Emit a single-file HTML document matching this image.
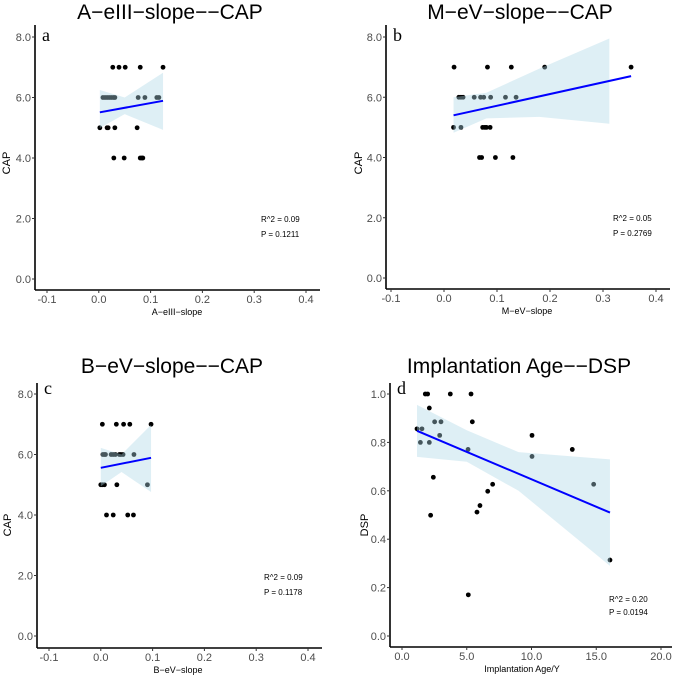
<!DOCTYPE html>
<html><head><meta charset="utf-8"><style>
html,body{margin:0;padding:0;background:#fff}
svg{display:block;font-family:"Liberation Sans",sans-serif}
</style></head><body>
<svg id="fig" width="675" height="676" viewBox="0 0 675 676"></svg>
<script>
// Panel a data
const aX7=[0.027,0.039,0.051,0.080,0.124];
const aX6=[0.008,0.012,0.016,0.020,0.024,0.028,0.031,0.076,0.089,0.112,0.116];
const aX5=[0.002,0.016,0.018,0.031,0.074];
const aX4=[0.029,0.049,0.080,0.083,0.085];
// Panel b data
const bX7=[0.019,0.082,0.127,0.190,0.353];
const bX6=[0.028,0.032,0.036,0.057,0.069,0.075,0.088,0.116,0.136];
const bX5=[0.018,0.032,0.073,0.077,0.080,0.087];
const bX4=[0.067,0.071,0.097,0.130];
// Panel c data
const cX7=[0.003,0.030,0.044,0.056,0.097];
const cX6=[0.004,0.007,0.009,0.020,0.024,0.028,0.036,0.039,0.043,0.064];
const cX5=[0.000,0.003,0.007,0.031,0.090];
const cX4=[0.011,0.024,0.052,0.063];
// Panel d data
const dAge=[1.16,1.54,1.42,1.80,1.98,2.11,2.11,2.52,3.01,2.91,2.42,2.21,3.73,5.33,5.43,5.10,5.12,5.79,6.02,6.62,7.0,10.04,10.04,13.15,14.8,16.06];
const dDSP=[0.856,0.856,0.80,1.0,1.0,0.942,0.80,0.885,0.885,0.829,0.656,0.499,1.0,1.0,0.885,0.771,0.17,0.512,0.539,0.598,0.627,0.829,0.742,0.771,0.627,0.314];
// Fit lines (endpoints) and CI bands [x, lower, upper]
const aFit=[[0.002,5.51],[0.124,5.89]];
const aBand=[[0.002,4.99,6.25],[0.05,5.45,6.0],[0.124,4.93,6.82]];
const bFit=[[0.018,5.40],[0.353,6.70]];
const bBand=[[0.018,4.82,6.0],[0.08,5.3,6.15],[0.18,5.35,6.95],[0.312,5.12,7.95]];
const cFit=[[0.000,5.56],[0.097,5.89]];
const cBand=[[0.000,4.95,6.22],[0.04,5.42,6.0],[0.097,4.76,6.98]];
const dFit=[[1.16,0.848],[16.06,0.51]];
const dBand=[[1.16,0.74,0.955],[5,0.72,0.85],[9,0.60,0.76],[16.06,0.29,0.73]];

const yTicksCAP=[0,2,4,6,8];
const xTicksSlope=[-0.1,0,0.1,0.2,0.3,0.4];
const yTicksDSP=[0,0.2,0.4,0.6,0.8,1.0];
const xTicksAge=[0,5,10,15,20];

const NS="http://www.w3.org/2000/svg";
const svg=document.getElementById('fig');
function el(tag,attrs,parent){const e=document.createElementNS(NS,tag);for(const k in attrs)e.setAttribute(k,attrs[k]);(parent||svg).appendChild(e);return e;}

function panel(P){
  const g=el('g',{});
  
  
  const sx=v=>P.x0+(v-P.xv0)/(P.xv1-P.xv0)*(P.x1-P.x0);
  const sy=v=>P.y0+(v-P.yv0)/(P.yv1-P.yv0)*(P.y1-P.y0);
  const t=el('text',{x:P.tx,y:P.ty,'text-anchor':'middle','font-size':21,fill:'#000'},g);t.textContent=P.title;
  
  
  const L=el('text',{x:P.ax+7,y:P.lettery,'font-size':18,'font-family':'Liberation Serif,serif',fill:'#000'},g);L.textContent=P.letter;
  
  
  // points
  P.pts.forEach(p=>{const c=el('circle',{cx:sx(p[0]),cy:sy(p[1]),r:2.4,fill:'#000'},g);
    
    });
  // band
  let d='M'+P.band.map(b=>sx(b[0])+','+sy(b[2])).join(' L');
  d+=' L'+P.band.slice().reverse().map(b=>sx(b[0])+','+sy(b[1])).join(' L')+' Z';
  const bp=el('path',{d:d,fill:'#add8e6','fill-opacity':0.4,stroke:'none'},g);
  
  
  const ln=el('line',{x1:sx(P.fit[0][0]),y1:sy(P.fit[0][1]),x2:sx(P.fit[1][0]),y2:sy(P.fit[1][1]),stroke:'#0000ff','stroke-width':2},g);
  
  
  // axes
  const ya=el('line',{x1:P.ax,y1:P.axTop,x2:P.ax,y2:P.ay,stroke:'#000','stroke-width':1.6},g);
  
  
  const xa=el('line',{x1:P.ax,y1:P.ay,x2:P.axRight,y2:P.ay,stroke:'#000','stroke-width':1.6},g);
  
  
  P.yt.forEach(v=>{const y=sy(v);
    el('line',{x1:P.ax-3,y1:y,x2:P.ax,y2:y,stroke:'#333','stroke-width':1},g);
    const tx=el('text',{x:P.ax-4,y:y+4,'text-anchor':'end','font-size':11,fill:'#4d4d4d'},g);tx.textContent=v.toFixed(1);
    
    });
  P.xt.forEach(v=>{const x=sx(v);
    el('line',{x1:x,y1:P.ay,x2:x,y2:P.ay+3,stroke:'#333','stroke-width':1},g);
    const tx=el('text',{x:x,y:P.ay+13,'text-anchor':'middle','font-size':11,fill:'#4d4d4d'},g);tx.textContent=v.toFixed(1);
    
    });
  const xl=el('text',{x:P.xlx,y:P.ay+25,'text-anchor':'middle','font-size':9,fill:'#000'},g);xl.textContent=P.xlabel;
  
  
  const yl=el('text',{x:0,y:0,'text-anchor':'middle','font-size':11,fill:'#000',transform:`translate(${P.ylx},${P.yly}) rotate(-90)`},g);yl.textContent=P.ylabel;
  
  
  const r=el('text',{x:P.annx,y:P.anny,'font-size':8,fill:'#000'},g);r.textContent=P.r2;
  
  
  const pv=el('text',{x:P.annx,y:P.anny+P.anngap,'font-size':8,fill:'#000'},g);pv.textContent=P.p;
  
  
}
function capPts(x7,x6,x5,x4){const a=[];x7.forEach(x=>a.push([x,7]));x6.forEach(x=>a.push([x,6]));x5.forEach(x=>a.push([x,5]));x4.forEach(x=>a.push([x,4]));return a;}

panel({id:'panel-a',title:'A\u2212eIII\u2212slope\u2212\u2212CAP',tx:170,ty:19,letter:'a',lettery:41,
 x0:47,x1:306,xv0:-0.1,xv1:0.4,y0:279,y1:37,yv0:0,yv1:8,ax:35,ay:290,axTop:25,axRight:320,
 pts:capPts(aX7,aX6,aX5,aX4),fit:aFit,band:aBand,yt:yTicksCAP,xt:xTicksSlope,
 xlabel:'A\u2212eIII\u2212slope',xlx:177,ylabel:'CAP',ylx:10,yly:163,annx:261,anny:222,anngap:15,r2:'R^2 = 0.09',p:'P = 0.1211'});
panel({id:'panel-b',title:'M\u2212eV\u2212slope\u2212\u2212CAP',tx:520,ty:19,letter:'b',lettery:41,
 x0:391,x1:656,xv0:-0.1,xv1:0.4,y0:278,y1:37,yv0:0,yv1:8,ax:386,ay:289,axTop:25,axRight:670,
 pts:capPts(bX7,bX6,bX5,bX4),fit:bFit,band:bBand,yt:yTicksCAP,xt:xTicksSlope,
 xlabel:'M\u2212eV\u2212slope',xlx:527,ylabel:'CAP',ylx:362,yly:163,annx:613,anny:221,anngap:15,r2:'R^2 = 0.05',p:'P = 0.2769'});
panel({id:'panel-c',title:'B\u2212eV\u2212slope\u2212\u2212CAP',tx:172,ty:373,letter:'c',lettery:394,
 x0:49,x1:308,xv0:-0.1,xv1:0.4,y0:636,y1:394,yv0:0,yv1:8,ax:37,ay:648,axTop:383,axRight:322,
 pts:capPts(cX7,cX6,cX5,cX4),fit:cFit,band:cBand,yt:yTicksCAP,xt:xTicksSlope,
 xlabel:'B\u2212eV\u2212slope',xlx:178,ylabel:'CAP',ylx:11,yly:525,annx:264,anny:580,anngap:15,r2:'R^2 = 0.09',p:'P = 0.1178'});
panel({id:'panel-d',title:'Implantation Age\u2212\u2212DSP',tx:519,ty:373,letter:'d',lettery:394,
 x0:402,x1:661,xv0:0,xv1:20,y0:636,y1:394,yv0:0,yv1:1,ax:390,ay:647,axTop:383,axRight:672,
 pts:dAge.map((a,i)=>[a,dDSP[i]]),fit:dFit,band:dBand,yt:yTicksDSP,xt:xTicksAge,
 xlabel:'Implantation Age/Y',xlx:522,ylabel:'DSP',ylx:368,yly:525,annx:609,anny:602,anngap:13,r2:'R^2 = 0.20',p:'P = 0.0194'});
</script>
</body></html>
